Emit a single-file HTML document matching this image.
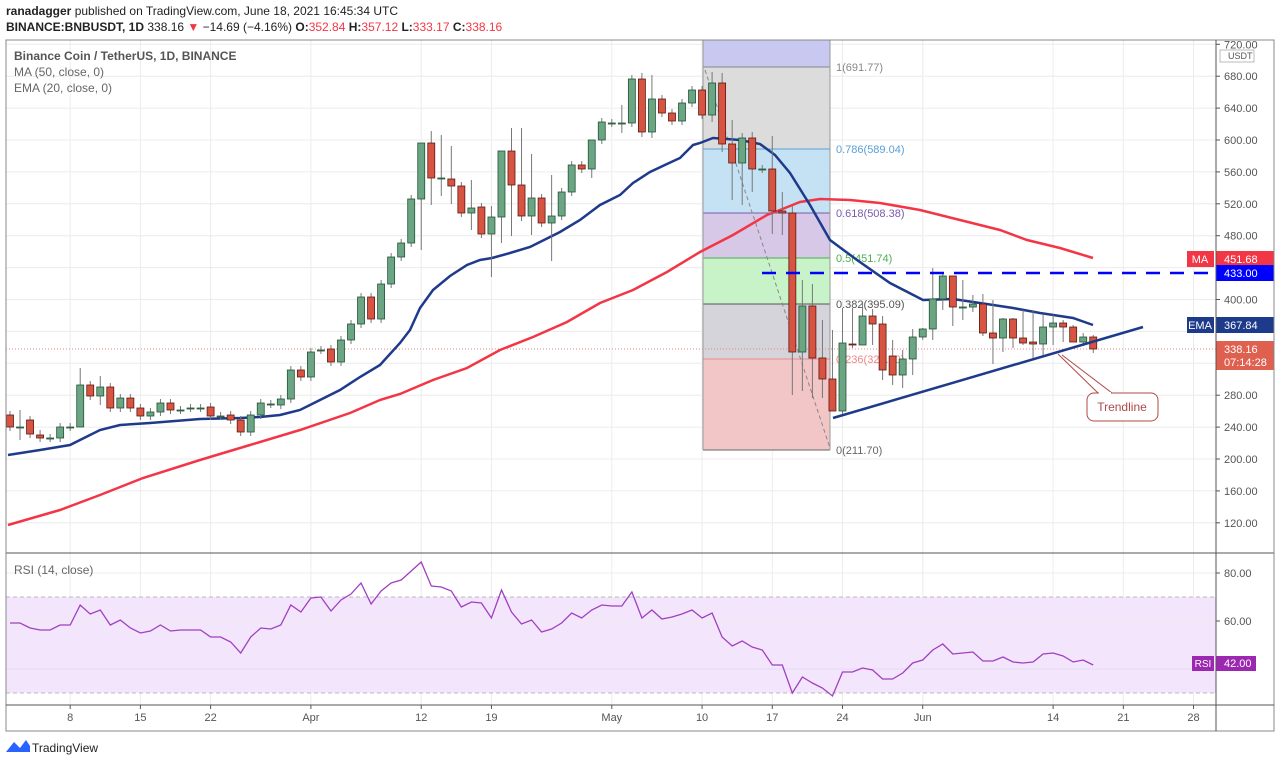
<!DOCTYPE html>
<html><head><meta charset="utf-8"><style>
body{margin:0;background:#fff;width:1280px;height:765px;overflow:hidden;font-family:"Liberation Sans",sans-serif}
</style></head><body>
<svg id="s" width="1280" height="765" xmlns="http://www.w3.org/2000/svg" font-family="Liberation Sans, sans-serif"></svg>
<script>
const S=document.getElementById('s');let h='';
function py(p){return 459-(p-200)*0.7975;}
function X(i){return 10+i*10.03;}
// header
h+='<text x="6" y="15" font-size="12" fill="#222"><tspan font-weight="bold">ranadagger</tspan> published on TradingView.com, June 18, 2021 16:45:34 UTC</text>';
h+='<text x="6" y="31" font-size="12" fill="#222"><tspan font-weight="bold">BINANCE:BNBUSDT, 1D</tspan>  338.16 <tspan fill="#f23645">▼</tspan> −14.69 (−4.16%) <tspan font-weight="bold">O:</tspan><tspan fill="#f23645">352.84</tspan> <tspan font-weight="bold">H:</tspan><tspan fill="#f23645">357.12</tspan> <tspan font-weight="bold">L:</tspan><tspan fill="#f23645">333.17</tspan> <tspan font-weight="bold">C:</tspan><tspan fill="#f23645">338.16</tspan></text>';
// grid
const gi=[6,13,20,30,41,48,60,69,76,83,91,104,111,118];
const gl=['8','15','22','Apr','12','19','May','10','17','24','Jun','14','21','28'];
gi.forEach((i,k)=>{const x=X(i);h+=`<line x1="${x}" y1="40" x2="${x}" y2="705" stroke="#ececec"/>`;
h+=`<line x1="${x}" y1="705" x2="${x}" y2="709" stroke="#555"/><text x="${x}" y="721" font-size="11" fill="#555" text-anchor="middle">${gl[k]}</text>`;});
for(let p=120;p<=720;p+=40){const y=py(p);h+=`<line x1="6" y1="${y}" x2="1216" y2="${y}" stroke="#ececec"/>`;
if(p!=440&&p!=360&&p!=320)h+=`<line x1="1216" y1="${y}" x2="1220" y2="${y}" stroke="#555"/><text x="1224" y="${y+4}" font-size="11" fill="#555">${p}.00</text>`;}
h+='<text x="1228" y="59" font-size="9" fill="#555">USDT</text><rect x="1220" y="50" width="34" height="12" fill="none" stroke="#bbb"/>';
// fib
const fx1=703,fx2=830;
const fb=[[40,67,'#c8c8f0'],[67,149,'#dcdcdc'],[149,213,'#c4e2f4'],[213,258,'#d6c8e6'],[258,304,'#c8f2c8'],[304,359,'#d4d4da'],[359,450,'#f2c6c6']];
fb.forEach(b=>h+=`<rect x="${fx1}" y="${b[0]}" width="${fx2-fx1}" height="${b[1]-b[0]}" fill="${b[2]}"/>`);
const fl=[[67,'#888','1(691.77)'],[149,'#5aa0d8','0.786(589.04)'],[213,'#7a5aaa','0.618(508.38)'],[258,'#4caf50','0.5(451.74)'],[304,'#555','0.382(395.09)'],[359,'#e88','0.236(325.00)'],[450,'#666','0(211.70)']];
fl.forEach(l=>{h+=`<line x1="${fx1}" y1="${l[0]}" x2="${fx2}" y2="${l[0]}" stroke="${l[1]}"/><text x="836" y="${l[0]+4}" font-size="11" fill="${l[1]}">${l[2]}</text>`;});
h+=`<line x1="${fx1}" y1="40" x2="${fx1}" y2="450" stroke="#999"/><line x1="${fx2}" y1="40" x2="${fx2}" y2="450" stroke="#999"/>`;
h+='<line x1="705" y1="70" x2="830" y2="448" stroke="#888" stroke-dasharray="4,3"/>';
// last price line
h+='<line x1="6" y1="349" x2="1216" y2="349" stroke="#f08080" stroke-dasharray="1,2"/>';
// MA
h+='<polyline fill="none" stroke="#f23645" stroke-width="2.5" points="8,525 60,510 100,495 143,478 200,460 250,445 300,430 350,413 380,400 400,394 433,380 467,368 500,350 533,337 567,322 600,303 633,290 667,272 700,252 733,235 767,215 780,210 800,202 820,199 850,200 880,203 920,210 960,220 1000,230 1027,240 1060,248 1093,258"/>';
// EMA
h+='<polyline fill="none" stroke="#1e3a8a" stroke-width="2.5" points="8,455 40,450 70,445 80,440 100,430 120,425 150,423 200,419 240,418 260,417 280,415 300,410 320,400 340,390 360,377 380,365 400,343 410,330 420,308 433,290 450,276 467,265 480,260 492,258 510,253 530,247 540,242 560,232 580,220 600,205 620,195 633,183 650,172 667,164 680,158 693,145 700,143 713,138 727,139 740,140 760,144 775,155 790,173 810,205 830,240 857,260 890,283 923,300 953,299 980,303 1013,308 1040,313 1073,318 1093,325"/>';
// candles [openY, closeY]
const C=[[415,427],[427,427],[420,434],[435,438],[438,438],[438,427],[427,427],[427,385],[385,396],[396,387],[387,408],[408,398],[398,408],[408,416],[416,412],[412,403],[403,410],[410,410],[408,408],[408,408],[407,416],[416,416],[415,420],[420,432],[432,415],[415,403],[404,404],[405,399],[399,370],[370,377],[377,352],[350,350],[349,362],[362,340],[340,324],[324,297],[297,319],[319,284],[284,257],[257,243],[243,199],[199,143],[143,178],[178,178],[179,186],[186,213],[213,208],[207,234],[234,217],[217,151],[151,185],[185,216],[216,198],[198,223],[223,216],[216,192],[192,165],[165,169],[169,140],[140,122],[123,123],[123,123],[123,79],[79,132],[132,99],[99,113],[113,121],[121,103],[103,90],[90,115],[115,83],[83,144],[144,163],[163,138],[138,169],[169,169],[169,211],[211,213],[213,352],[352,306],[306,358],[358,379],[379,411],[411,343],[344,345],[345,316],[316,324],[324,370],[356,375],[375,359],[359,337],[337,329],[329,299],[299,276],[276,307],[307,307],[307,304],[304,333],[333,338],[338,319],[319,338],[338,343],[342,344],[344,327],[327,323],[323,327],[327,342],[342,337],[337,349]];
const W={1:[410,440],3:[430,442],7:[368,420],9:[376,405],41:[184,250],42:[131,205],43:[135,196],44:[146,204],46:[180,230],48:[206,277],49:[200,243],50:[128,236],51:[128,221],52:[154,235],54:[175,261],58:[154,178],61:[105,133],63:[73,137],64:[75,138],70:[72,122],71:[73,152],72:[120,200],73:[133,205],74:[132,192],76:[136,234],77:[192,235],78:[206,395],79:[280,391],80:[284,398],81:[320,398],82:[330,400],83:[308,415],84:[308,348],85:[302,345],86:[309,345],87:[316,380],88:[340,385],89:[350,388],90:[329,375],91:[328,340],92:[268,340],93:[274,310],94:[278,326],95:[280,320],96:[295,312],97:[294,336],98:[300,364],99:[318,352],100:[318,348],101:[310,345],102:[310,360],103:[314,355],104:[315,345],105:[320,342],106:[325,340],107:[333,345],108:[335,353]};
C.forEach((c,i)=>{const x=X(i);const up=c[1]<=c[0];const t=Math.min(...c),b=Math.max(...c);
let hi=t-4,lo=b+4;if(W[i]){hi=W[i][0];lo=W[i][1];}
const f=up?'#6ba583':'#d75442',st=up?'#225437':'#5b1a13';
h+=`<line x1="${x}" y1="${hi}" x2="${x}" y2="${lo}" stroke="#777"/>`;
h+=`<rect x="${x-3.5}" y="${t}" width="7" height="${Math.max(b-t,1)}" fill="${f}" stroke="${st}" stroke-width="0.8"/>`;});
// dashed resistance, trendline
h+='<line x1="762" y1="273" x2="1210" y2="273" stroke="#0000ff" stroke-width="2.5" stroke-dasharray="14,10"/>';
h+='<line x1="833" y1="418" x2="1143" y2="327" stroke="#1e3a8a" stroke-width="2.5"/>';
h+='<polyline points="1058,354 1098,393 1112,393 1062,355" fill="#fff" stroke="#b04848"/>';
h+='<rect x="1087" y="393" width="71" height="28" rx="7" fill="#fff" stroke="#b04848"/><line x1="1099" y1="393" x2="1111" y2="393" stroke="#fff" stroke-width="2"/><text x="1122" y="411" font-size="12" fill="#b04848" text-anchor="middle">Trendline</text>';
// legend
h+='<text x="14" y="60" font-size="12" fill="#555" font-weight="bold">Binance Coin / TetherUS, 1D, BINANCE</text><text x="14" y="76" font-size="12" fill="#666">MA (50, close, 0)</text><text x="14" y="92" font-size="12" fill="#666">EMA (20, close, 0)</text>';
// right labels
h+='<rect x="1187" y="251" width="27" height="16" fill="#f23645"/><text x="1200" y="263" font-size="11" fill="#fff" text-anchor="middle">MA</text><rect x="1216" y="251" width="58" height="16" fill="#f23645"/><text x="1224" y="263" font-size="11" fill="#fff">451.68</text>';
h+='<rect x="1216" y="265" width="58" height="16" fill="#0000ff"/><text x="1224" y="277" font-size="11" fill="#fff">433.00</text>';
h+='<rect x="1187" y="317" width="27" height="16" fill="#1e3a8a"/><text x="1200" y="329" font-size="11" fill="#fff" text-anchor="middle">EMA</text><rect x="1216" y="317" width="58" height="16" fill="#1e3a8a"/><text x="1224" y="329" font-size="11" fill="#fff">367.84</text>';
h+='<rect x="1216" y="341" width="58" height="29" fill="#e06050"/><text x="1224" y="353" font-size="11" fill="#fff">338.16</text><text x="1224" y="366" font-size="11" fill="#fff">07:14:28</text>';
// RSI pane
h+='<line x1="6" y1="553" x2="1274" y2="553" stroke="#555"/>';
h+='<rect x="6" y="597" width="1210" height="96" fill="#f3e5fc"/><line x1="6" y1="597" x2="1216" y2="597" stroke="#bbb" stroke-dasharray="4,3"/><line x1="6" y1="693" x2="1216" y2="693" stroke="#bbb" stroke-dasharray="4,3"/>';
[[573,'80.00'],[621,'60.00']].forEach(r=>{h+=`<line x1="6" y1="${r[0]}" x2="1216" y2="${r[0]}" stroke="#ececec"/><line x1="1216" y1="${r[0]}" x2="1220" y2="${r[0]}" stroke="#555"/><text x="1224" y="${r[0]+4}" font-size="11" fill="#555">${r[1]}</text>`;});
h+='<line x1="6" y1="669" x2="1216" y2="669" stroke="#e6dcef"/>';
const R=[623,623,628,630,630,625,625,605,614,610,625,620,628,633,631,625,631,630,630,630,637,637,642,653,637,628,629,625,605,612,598,597,611,600,594,583,604,591,583,580,571,562,586,587,591,607,602,603,618,590,612,624,620,632,629,623,613,618,610,605,606,606,592,618,610,619,617,614,610,618,613,637,646,641,647,650,665,665,693,677,683,688,696,672,672,668,670,679,679,673,663,660,650,644,654,653,652,661,661,657,662,663,662,654,653,656,662,660,665];
h+='<polyline fill="none" stroke="#a040c0" stroke-width="1.3" points="'+R.map((y,i)=>X(i).toFixed(1)+','+y).join(' ')+'"/>';
h+='<text x="14" y="574" font-size="12" fill="#666">RSI (14, close)</text>';
h+='<rect x="1192" y="656" width="22" height="15" fill="#9c27b0"/><text x="1203" y="667" font-size="10" fill="#fff" text-anchor="middle">RSI</text><rect x="1216" y="656" width="40" height="15" fill="#9c27b0"/><text x="1224" y="667" font-size="11" fill="#fff">42.00</text>';
// frame
h+='<rect x="6" y="40" width="1268" height="691" fill="none" stroke="#888"/><line x1="1216" y1="40" x2="1216" y2="731" stroke="#555"/><line x1="6" y1="705" x2="1274" y2="705" stroke="#555"/>';
// logo
h+='<path d="M6,752 L14,742 L20,748 L26,740 L30,746 L30,752 Z" fill="#2962ff"/><text x="32" y="752" font-size="12" fill="#222">TradingView</text>';
S.innerHTML=h;
</script>
</body></html>
